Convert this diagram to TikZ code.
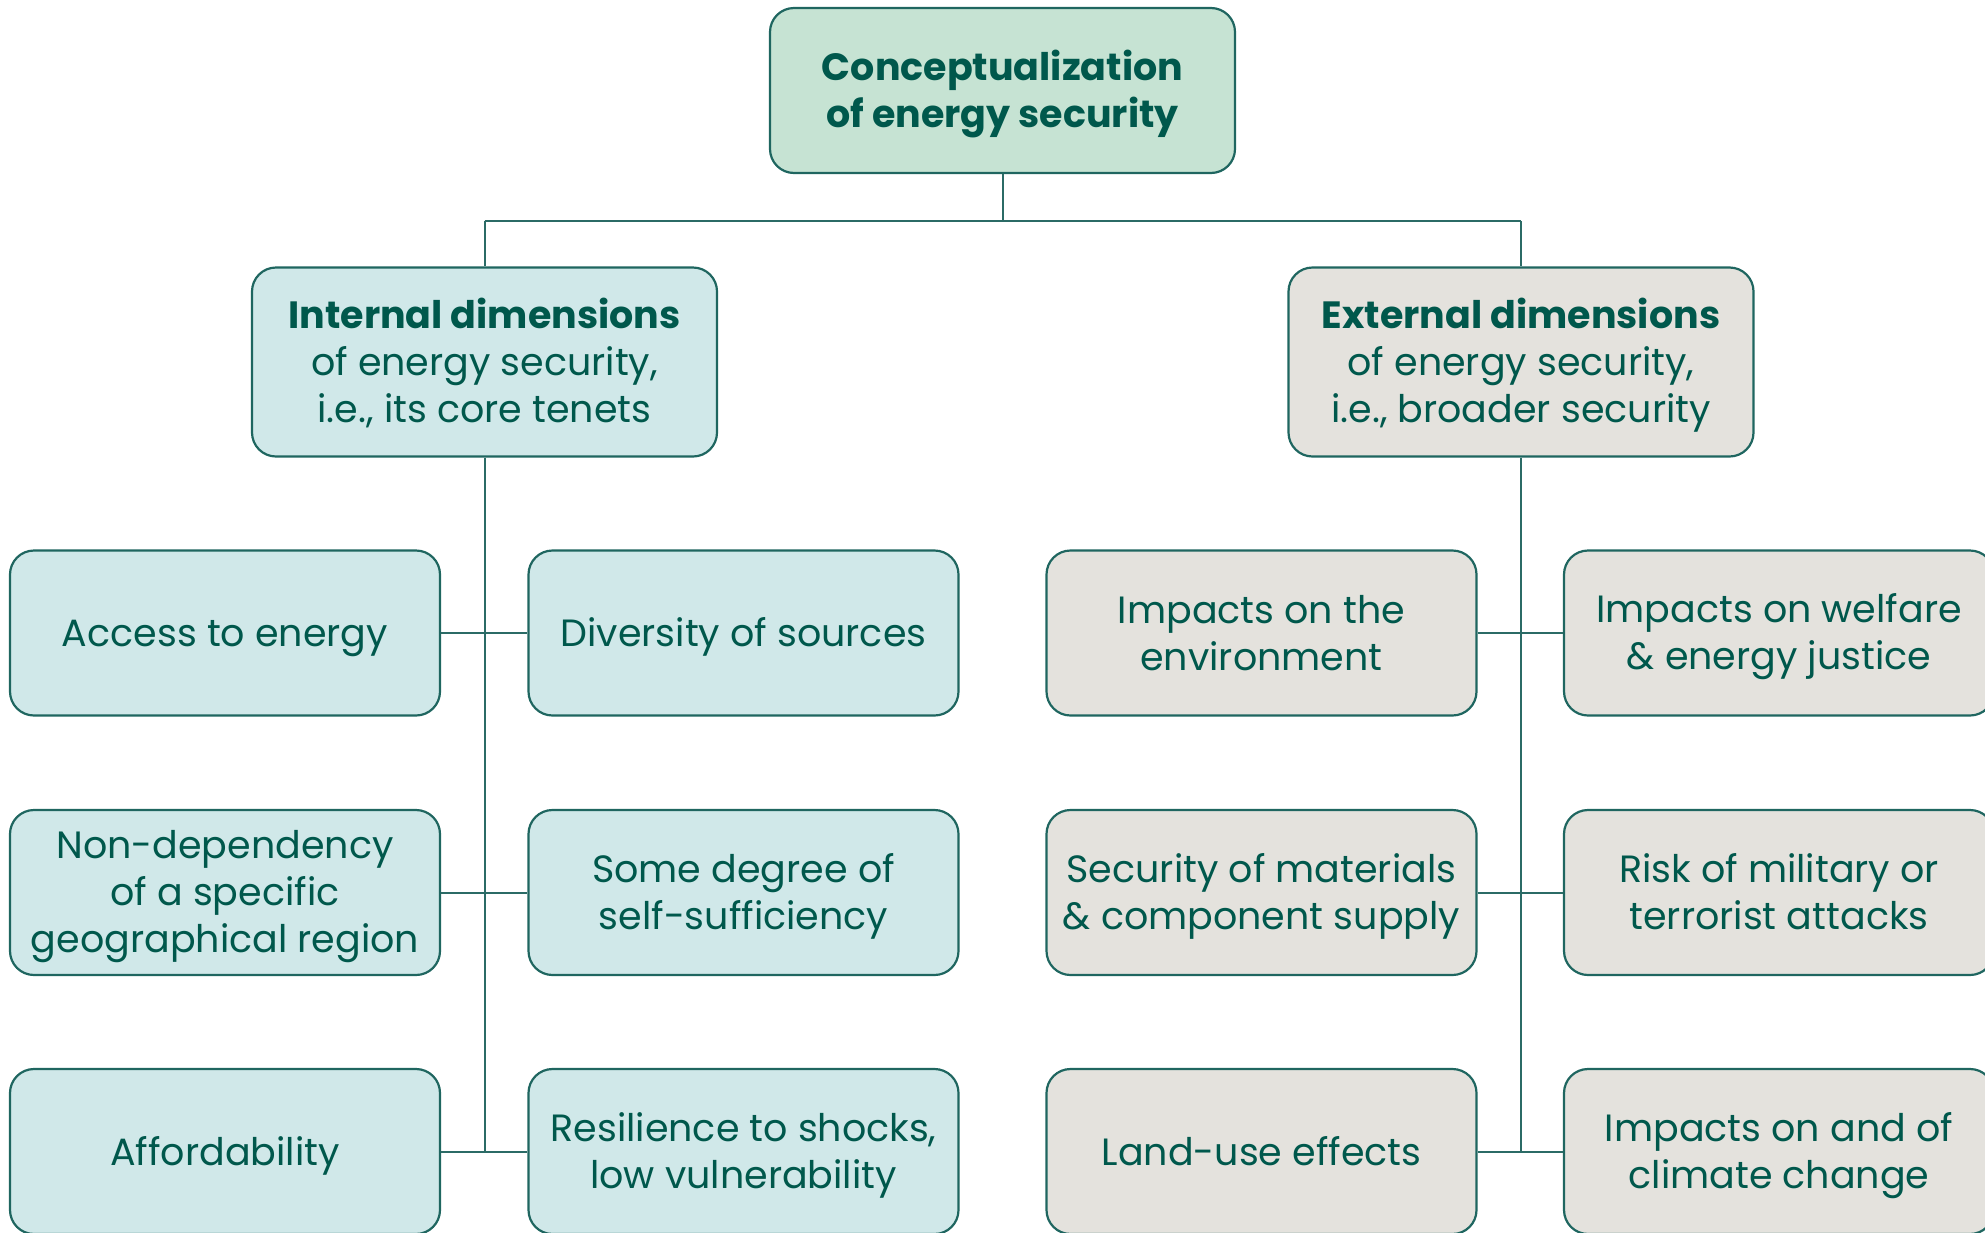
\documentclass[tikz,border=0pt]{standalone}
\usepackage{fontspec}
\setmainfont{Poppins}
\newfontfamily\boldpop{Poppins}[UprightFont=* Bold]
\definecolor{inkteal}{HTML}{00584C}
\definecolor{edgeteal}{HTML}{1F6660}
\definecolor{linkteal}{HTML}{2B6B66}
\definecolor{topfill}{HTML}{C6E3D3}
\definecolor{innerfill}{HTML}{D0E8E9}
\definecolor{outerfill}{HTML}{E4E2DD}
% fixed line struts, so descenders do not move the text off centre
\newcommand{\ts}{\rule{0pt}{18.5pt}}
\newcommand{\botstrut}{\rule[-4.6pt]{0pt}{4.6pt}}
\tikzset{
  box/.style={draw=edgeteal, line width=1.1pt, rounded corners=12pt,
    align=center, text=inkteal, inner sep=0pt,
    font=\fontsize{19}{23.5}\selectfont,
    execute at end node=\botstrut},
  leafbox/.style={box, minimum width=215pt, minimum height=82.5pt},
  headbox/.style={box, minimum width=232.5pt, minimum height=94.5pt},
  rootbox/.style={box, fill=topfill, minimum width=232.5pt, minimum height=82.5pt},
  innerleaf/.style={leafbox, fill=innerfill},
  outerleaf/.style={leafbox, fill=outerfill},
  link/.style={draw=linkteal, line width=1pt},
}
\begin{document}
\begin{tikzpicture}[x=0.5pt,y=-0.5pt]
\useasboundingbox (0,0) rectangle (1985,1232);
\clip (0,0) rectangle (1985,1232);

% root
\node[rootbox] (root) at (1002.5,90.5)
  {\ts\boldpop Conceptualization\\\boldpop of energy security};

% the two branches
\node[headbox, fill=innerfill] (inner) at (484.5,362)
  {\ts{\boldpop Internal dimensions}\\of energy security,\\i.e., its core tenets};
\node[headbox, fill=outerfill] (outer) at (1521,362)
  {\ts{\boldpop External dimensions}\\of energy security,\\i.e., broader security};

% leaves of the internal branch
\node[innerleaf] (access) at (225,633) {\ts Access to energy};
\node[innerleaf] (divers) at (743.5,633) {\ts Diversity of sources};
\node[innerleaf] (nondep) at (225,892.5) {\ts Non-dependency\\of a specific\\geographical region};
\node[innerleaf] (selfsuf) at (743.5,892.5) {\ts Some degree of\\self-sufficiency};
\node[innerleaf] (afford) at (225,1151.5) {\ts Affordability};
\node[innerleaf] (resil) at (743.5,1151.5) {\ts Resilience to shocks,\\low vulnerability};

% leaves of the external branch
\node[outerleaf] (envir) at (1261.5,633) {\ts Impacts on the\\environment};
\node[outerleaf] (welfare) at (1779,633) {\ts Impacts on welfare\\\& energy justice};
\node[outerleaf] (material) at (1261.5,892.5) {\ts Security of materials\\\& component supply};
\node[outerleaf] (military) at (1779,892.5) {\ts Risk of military or\\terrorist attacks};
\node[outerleaf] (landuse) at (1261.5,1151.5) {\ts Land-use effects};
\node[outerleaf] (climate) at (1779,1151.5) {\ts Impacts on and of\\climate change};

% spine coordinates
\coordinate (split) at (1002.5,221);
\coordinate (lsplit) at (484.5,221);
\coordinate (rsplit) at (1521,221);
\coordinate (lend) at (484.5,1151.5);
\coordinate (rend) at (1521,1151.5);

% top tree
\draw[link] (root.south) -- (split);
\draw[link] (lsplit) -- (rsplit);
\draw[link] (lsplit) -- (inner.north);
\draw[link] (rsplit) -- (outer.north);

% trunks
\draw[link] (inner.south) -- (lend);
\draw[link] (outer.south) -- (rend);

% rungs
\draw[link] (access.east) -- (divers.west);
\draw[link] (nondep.east) -- (selfsuf.west);
\draw[link] (afford.east) -- (resil.west);
\draw[link] (envir.east) -- (welfare.west);
\draw[link] (material.east) -- (military.west);
\draw[link] (landuse.east) -- (climate.west);
\end{tikzpicture}
\end{document}
